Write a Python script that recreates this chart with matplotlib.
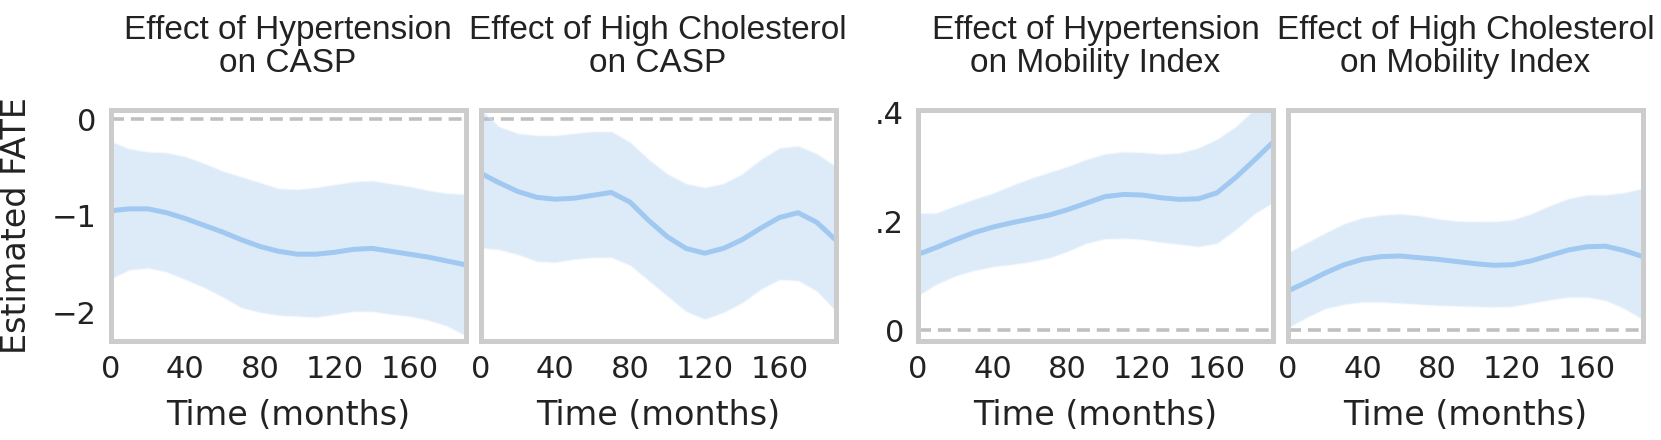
import numpy as np
import matplotlib
matplotlib.use("Agg")
import matplotlib.pyplot as plt

# Time grid (months)
months = [0, 10, 20, 30, 40, 50, 60, 70, 80, 90, 100, 110, 120, 130, 140, 150, 160, 170, 180, 190]

titles = [
    "Effect of Hypertension\non CASP",
    "Effect of High Cholesterol\non CASP",
    "Effect of Hypertension\non Mobility Index",
    "Effect of High Cholesterol\non Mobility Index",
]

# Hypertension -> CASP
casp_htn_mean = [-0.95, -0.93, -0.93, -0.97, -1.03, -1.10, -1.17, -1.25, -1.32, -1.37,
                 -1.40, -1.40, -1.38, -1.35, -1.34, -1.37, -1.40, -1.43, -1.47, -1.51]
casp_htn_upper = [-0.23, -0.31, -0.34, -0.35, -0.39, -0.46, -0.54, -0.60, -0.66, -0.72,
                  -0.73, -0.71, -0.68, -0.65, -0.64, -0.67, -0.70, -0.74, -0.77, -0.78]
casp_htn_lower = [-1.65, -1.56, -1.54, -1.58, -1.66, -1.74, -1.84, -1.95, -2.00, -2.03,
                  -2.04, -2.05, -2.02, -1.99, -1.99, -2.02, -2.04, -2.08, -2.14, -2.24]

# High cholesterol -> CASP
casp_chol_mean = [-0.56, -0.66, -0.75, -0.81, -0.83, -0.82, -0.79, -0.76, -0.86, -1.05,
                  -1.22, -1.34, -1.39, -1.34, -1.25, -1.13, -1.02, -0.97, -1.07, -1.25]
casp_chol_upper = [0.10, -0.08, -0.15, -0.17, -0.17, -0.15, -0.13, -0.13, -0.24, -0.42,
                   -0.57, -0.67, -0.71, -0.67, -0.57, -0.42, -0.30, -0.28, -0.36, -0.49]
casp_chol_lower = [-1.33, -1.35, -1.40, -1.47, -1.48, -1.45, -1.43, -1.43, -1.51, -1.67,
                   -1.83, -1.99, -2.07, -2.00, -1.90, -1.76, -1.66, -1.67, -1.78, -1.98]

# Hypertension -> Mobility Index
mob_htn_mean = [0.139, 0.152, 0.166, 0.179, 0.189, 0.197, 0.204, 0.211, 0.221, 0.233,
                0.245, 0.249, 0.248, 0.243, 0.240, 0.241, 0.252, 0.280, 0.312, 0.345]
mob_htn_upper = [0.214, 0.215, 0.228, 0.240, 0.251, 0.265, 0.278, 0.289, 0.300, 0.313,
                 0.323, 0.327, 0.326, 0.323, 0.325, 0.334, 0.350, 0.373, 0.405, 0.440]
mob_htn_lower = [0.064, 0.085, 0.100, 0.110, 0.117, 0.121, 0.126, 0.133, 0.145, 0.160,
                 0.168, 0.169, 0.167, 0.162, 0.158, 0.154, 0.160, 0.185, 0.214, 0.235]

# High cholesterol -> Mobility Index
mob_chol_mean = [0.072, 0.088, 0.105, 0.120, 0.130, 0.135, 0.136, 0.133, 0.130, 0.126,
                 0.122, 0.119, 0.120, 0.127, 0.137, 0.147, 0.153, 0.154, 0.146, 0.135]
mob_chol_upper = [0.142, 0.160, 0.178, 0.195, 0.206, 0.211, 0.213, 0.210, 0.204, 0.200,
                  0.199, 0.199, 0.202, 0.213, 0.228, 0.241, 0.248, 0.248, 0.252, 0.260]
mob_chol_lower = [0.005, 0.024, 0.040, 0.048, 0.052, 0.052, 0.050, 0.048, 0.046, 0.045,
                  0.044, 0.043, 0.044, 0.050, 0.056, 0.061, 0.061, 0.055, 0.040, 0.020]

x_ticks = [0, 40, 80, 120, 160]
casp_ticks = [0, -1, -2]
casp_ticklabels = ["0", "\u22121", "\u22122"]
mob_ticks = [0, 0.2, 0.4]
mob_ticklabels = ["0", ".2", ".4"]

series = [
    (casp_htn_mean, casp_htn_lower, casp_htn_upper),
    (casp_chol_mean, casp_chol_lower, casp_chol_upper),
    (mob_htn_mean, mob_htn_lower, mob_htn_upper),
    (mob_chol_mean, mob_chol_lower, mob_chol_upper),
]

line_color = "#a0c8f0"
spine_color = "#cccccc"
text_color = "#222222"

W, H = 1661, 440
fig = plt.figure(figsize=(W / 100, H / 100), dpi=100)

lefts = [110.5, 480.5, 918, 1288]
width = 355
top_px, bot_px = 109.5, 341
axes = []
for left in lefts:
    ax = fig.add_axes([left / W, 1 - bot_px / H, width / W, (bot_px - top_px) / H])
    axes.append(ax)

for i, (ax, (mean, lower, upper)) in enumerate(zip(axes, series)):
    ax.fill_between(months, lower, upper, color=line_color, alpha=0.35,
                    edgecolor="#e6f0fb", linewidth=1.5)
    ax.plot(months, mean, color=line_color, lw=3.6, solid_capstyle="butt")
    ax.axhline(0, color="#c0c0c0", ls=(0, (3.6, 1.9)), lw=2.6, zorder=0)

    ax.set_xlim(0, 190)
    ax.set_xticks(x_ticks)
    ax.tick_params(axis="both", length=0, labelsize=22, pad=10, labelcolor=text_color)
    ax.set_xlabel("Time (months)", fontsize=24, labelpad=11, color=text_color)
    ax.set_title(titles[i], fontsize=24, family="Liberation Sans", pad=27,
                 linespacing=1.1, color=text_color)
    for sp in ax.spines.values():
        sp.set_color(spine_color)
        sp.set_linewidth(3.6)

    if i < 2:
        ax.set_ylim(-2.3, 0.1)
        ax.set_yticks(casp_ticks)
        if i == 0:
            ax.set_yticklabels(casp_ticklabels)
        else:
            ax.set_yticklabels([])
    else:
        ax.set_ylim(-0.02, 0.405)
        ax.set_yticks(mob_ticks)
        if i == 2:
            ax.set_yticklabels(mob_ticklabels)
        else:
            ax.set_yticklabels([])

fig.text(0.0, (1 - (bot_px + top_px) / 2 / H), "Estimated FATE", rotation=90,
         fontsize=24, va="center", ha="left", color=text_color)

fig.savefig("out.png", dpi=100)
